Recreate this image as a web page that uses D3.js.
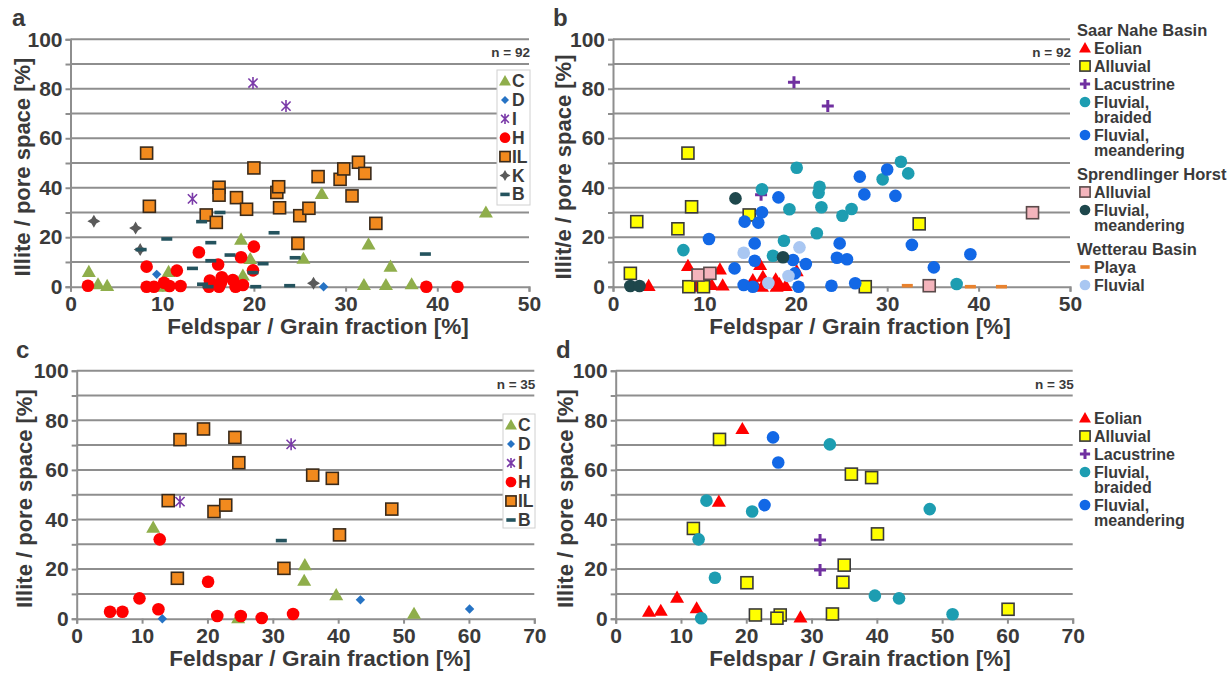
<!DOCTYPE html>
<html>
<head>
<meta charset="utf-8">
<script src="https://cdn.jsdelivr.net/npm/d3@7"></script>
<style>
body { margin: 0; background: #fff; }
svg text { font-family: "Liberation Sans", Arial, sans-serif; font-weight: bold; fill: #3a3a3a; }
</style>
</head>
<body>
<svg width="1229" height="679"></svg>
<script>
// ---- data ----
// panel a : diagenetic groups, x = feldspar, y = illite
var aC  = [[2.0,6],[3.0,1],[4.0,0.3],[9.9,0],[10.7,6],[18.6,19],[18.8,4.5],[19.6,11.2],[25.4,11.3],[27.4,37.5],[32.5,17.1],[34.9,8.1],[32.0,0.7],[34.4,0.7],[37.2,1],[45.3,30]];
var aD  = [[9.4,5],[27.6,0]];
var aI  = [[13.3,35.5],[19.9,82.3],[23.5,73]];
var aH  = [[1.9,0.4],[8.3,8.1],[8.3,0],[9.1,0],[10.2,1.6],[10.8,0.3],[11.6,6.5],[12.0,0.3],[14.0,13.9],[15.2,2.5],[15.1,0],[16.1,9],[16.5,3.8],[16.4,1.5],[16.2,0],[17.7,2.7],[18.0,0],[18.6,11.9],[18.8,0.7],[20.0,16.2],[19.9,6.6],[38.8,0],[42.2,0]];
var aIL = [[8.3,54],[8.6,32.5],[14.8,29],[15.9,26],[16.2,40.2],[16.2,37],[18.1,36],[19.2,31.3],[20.0,48],[22.5,38.1],[22.7,40.4],[22.8,31.9],[24.8,17.5],[25.0,28.7],[26.0,31.7],[27.0,44.5],[29.4,43.4],[29.8,47.6],[31.4,50.3],[32.1,45.8],[30.7,36.7],[33.3,25.6]];
var aK  = [[2.55,26.5],[7.1,23.7],[7.6,15],[26.5,1.4]];
var aB  = [[7.7,15],[10.5,19.3],[13.3,7.4],[14.3,26.3],[14.4,1],[15.0,0],[15.3,17.8],[15.3,10.5],[16.3,30],[17.4,12.8],[19.9,5.7],[20.2,0],[21.0,9.3],[22.2,21.8],[23.9,0.4],[24.5,11.7],[38.7,13.2]];

// panel b : facies
var bEolian     = [[8.2,8.4],[11.7,7.0],[3.9,0.3],[9.1,0],[10.2,1.6],[10.8,0.7],[12.0,0.5],[16.1,8.8],[16.4,4],[15.3,2.7],[15.1,0.7],[16.3,0],[17.8,3],[18.2,1.1],[18.9,0.3],[20.1,6.3],[17.9,0]];
var bAlluvial   = [[8.2,54],[8.6,32.3],[2.6,26.3],[7.1,23.4],[1.9,5.4],[8.3,0],[9.9,0],[14.9,29],[27.6,0],[33.5,25.4]];
var bLacustrine = [[19.8,82.6],[23.5,73],[16.2,37.2]];
var bBraided    = [[20.1,48.1],[16.3,39.4],[22.6,40.4],[22.5,38],[19.3,31.3],[22.8,32.1],[25.1,28.7],[26.1,31.4],[22.3,21.6],[18.7,18.6],[7.7,14.8],[17.5,12.5],[31.5,50.5],[32.3,45.8],[29.5,43.4],[37.6,1.1]];
var bMeander    = [[27.0,44.5],[18.1,36.1],[16.3,30.1],[14.4,26.3],[15.9,25.9],[10.5,19.3],[15.5,17.5],[24.8,17.5],[15.5,10.5],[19.7,10.8],[21.1,9.2],[24.5,11.7],[25.6,11.1],[13.3,7.4],[19.9,5.4],[14.3,0.7],[15.3,0],[20.3,0],[23.9,0.4],[26.5,1.4],[30.0,47.4],[27.5,37.3],[30.9,36.7],[32.7,16.9],[39.1,13.1],[35.1,7.8]];
var bSprAlluvial = [[9.3,4.7],[10.6,5.4],[45.9,29.9],[34.6,0.4]];
var bSprMeander  = [[1.9,0.3],[2.9,0.3],[13.4,35.7],[18.6,11.9]];
var bPlaya       = [[32.2,0.4],[39.1,0],[42.5,0]];
var bWetFluvial  = [[14.3,13.7],[20.4,15.9],[19.2,4.3],[17.0,1.5]];

// panel c
var cC  = [[11.7,36.7],[24.7,0.2],[34.9,21.6],[34.8,15.3],[39.7,9.5],[51.6,2]];
var cD  = [[13.1,0],[43.4,7.6],[60.1,3.9]];
var cI  = [[15.8,47.2],[32.8,70.3]];
var cH  = [[5.1,2.8],[7.0,2.8],[9.6,8.2],[12.5,3.8],[12.7,32],[20.1,14.9],[21.5,1.1],[25.1,1.1],[28.3,0.3],[33.1,1.9]];
var cIL = [[15.8,72.2],[19.4,76.5],[24.2,73.1],[24.8,62.9],[14.0,47.6],[21.0,43.2],[22.8,45.8],[15.4,16.3],[31.7,20.3],[36.1,57.9],[39.1,56.6],[48.2,44.2],[40.2,33.8]];
var cB  = [[31.3,31.5]];

// panel d
var dEolian     = [[5.1,2.8],[6.9,3.2],[9.4,8.5],[12.4,4.2],[15.8,47.2],[19.4,76.5],[28.3,0.5]];
var dAlluvial   = [[15.9,72.3],[11.9,36.4],[20.1,14.5],[21.4,1.5],[25.2,1.5],[24.7,0.2],[36.1,58.3],[39.2,56.9],[35.0,21.6],[34.8,14.7],[33.2,1.9],[40.1,34.2],[60.1,3.8]];
var dLacustrine = [[31.3,31.7],[31.3,19.6]];
var dBraided    = [[13.9,47.6],[20.9,43.2],[12.7,32],[15.2,16.5],[13.1,0.2],[32.8,70.3],[39.7,9.3],[43.4,8.2],[48.1,44.2],[51.6,1.8]];
var dMeander    = [[24.1,73.1],[24.9,63],[22.8,45.8]];

var yTicks = d3.range(0, 101, 10);
var xTicksAB = [0, 10, 20, 30, 40, 50];
var xTicksCD = [0, 10, 20, 30, 40, 50, 60, 70];

// ---- marker styles ----
var sty = {
  C:   {shape: "tri",     fill: "#8fae4b"},
  D:   {shape: "diamond", fill: "#2673c4"},
  I:   {shape: "star",    fill: "#7a3aa8"},
  H:   {shape: "circle",  fill: "#ff0000"},
  IL:  {shape: "square",  fill: "#f28a1e", stroke: "#3a2a1a"},
  K:   {shape: "kstar",   fill: "#5a5a5a"},
  B:   {shape: "dash",    fill: "#24535e"},
  eol: {shape: "tri",     fill: "#ff0000"},
  all: {shape: "square",  fill: "#ffff00", stroke: "#3a3a3a"},
  lac: {shape: "plus",    fill: "#7030a0"},
  brd: {shape: "circle",  fill: "#1d9db1"},
  mea: {shape: "circle",  fill: "#1268e6"},
  spa: {shape: "square",  fill: "#f4b4bc", stroke: "#5a4a4a"},
  spm: {shape: "circle",  fill: "#1e474c"},
  pla: {shape: "dash",    fill: "#e8822e"},
  wfl: {shape: "circle",  fill: "#a9c7f2"}
};

var svg = d3.select("svg");

function marker(sel, s, scale) {
  var k = scale || 1;
  if (s.shape == "circle") {
    sel.append("circle").attr("r", 6.3 * k).attr("fill", s.fill);
  } else if (s.shape == "square") {
    sel.append("rect").attr("x", -6 * k).attr("y", -6 * k).attr("width", 12 * k).attr("height", 12 * k)
      .attr("fill", s.fill).attr("stroke", s.stroke).attr("stroke-width", 1.6);
  } else if (s.shape == "tri") {
    sel.append("path").attr("d", d3.symbol(d3.symbolTriangle, 85 * k * k)()).attr("fill", s.fill)
      .attr("transform", "translate(0,1)");
  } else if (s.shape == "diamond") {
    // rotated square, like the spreadsheet diamond
    sel.append("path").attr("d", d3.symbol(d3.symbolSquare, 44 * k * k)()).attr("fill", s.fill)
      .attr("transform", "rotate(45)");
  } else if (s.shape == "kstar") {
    var r = 6.5 * k, q = 2.4 * k;
    sel.append("path").attr("fill", s.fill)
      .attr("d", "M0," + (-r) + "L" + q + "," + (-q) + "L" + r + ",0L" + q + "," + q + "L0," + r +
                 "L" + (-q) + "," + q + "L" + (-r) + ",0L" + (-q) + "," + (-q) + "Z");
  } else if (s.shape == "dash") {
    sel.append("rect").attr("x", -5.5 * k).attr("y", -1.8).attr("width", 11 * k).attr("height", 3.6).attr("fill", s.fill);
  } else if (s.shape == "plus") {
    var p = 6 * k;
    sel.append("path").attr("d", "M" + (-p) + ",0H" + p + "M0," + (-p) + "V" + p)
      .attr("stroke", s.fill).attr("stroke-width", 3).attr("fill", "none");
  } else if (s.shape == "star") {
    var a = 6 * k, b = 4.6 * k;
    sel.append("path").attr("d", "M0," + (-a) + "V" + a + "M" + (-b) + "," + (-b) + "L" + b + "," + b + "M" + (-b) + "," + b + "L" + b + "," + (-b))
      .attr("stroke", s.fill).attr("stroke-width", 1.6).attr("fill", "none");
  }
}

function panel(p) {
  var g = svg.append("g");
  var x = d3.scaleLinear().domain([0, p.xmax]).range([p.left, p.right]);
  var y = d3.scaleLinear().domain([0, 100]).range([p.bottom, p.top]);

  // grid lines every 10 %
  g.selectAll(".grid").data(yTicks.slice(1)).enter().append("line")
    .attr("x1", p.left).attr("x2", p.right)
    .attr("y1", function(d) { return y(d); }).attr("y2", function(d) { return y(d); })
    .attr("stroke", "#8e8e8e").attr("stroke-width", 2);

  var ya = g.append("g").attr("transform", "translate(" + p.left + ",0)")
    .call(d3.axisLeft(y).tickValues(yTicks).tickSize(5).tickPadding(3)
      .tickFormat(function(d) { return d % 20 == 0 ? d : ""; }));
  var xa = g.append("g").attr("transform", "translate(0," + p.bottom + ")")
    .call(d3.axisBottom(x).tickValues(p.xticks).tickSize(5).tickPadding(4));
  [ya, xa].forEach(function(ax) {
    ax.select(".domain").attr("stroke", "#8e8e8e").attr("stroke-width", 2);
    ax.selectAll(".tick line").attr("stroke", "#8e8e8e").attr("stroke-width", 2);
    ax.selectAll("text").style("font-size", "21px").attr("fill", "#3a3a3a");
  });

  // series
  p.series.forEach(function(s) {
    g.append("g").selectAll("g").data(s.data).enter().append("g")
      .attr("transform", function(d) { return "translate(" + x(d[0]) + "," + y(d[1]) + ")"; })
      .each(function() { marker(d3.select(this), sty[s.key]); });
  });

  // titles
  g.append("text").attr("x", p.xTitleX).attr("y", p.bottom + 47).attr("text-anchor", "middle")
    .style("font-size", "22.5px").text("Feldspar / Grain fraction [%]");
  g.append("text").attr("transform", "translate(" + p.yTitleX + "," + ((p.top + p.bottom) / 2 + 4) + ") rotate(-90)")
    .attr("text-anchor", "middle").style("font-size", "22px").text(p.yTitle);
  g.append("text").attr("x", p.letterX).attr("y", p.top - 13).style("font-size", "24px").text(p.letter);
  g.append("text").attr("x", p.right + 1).attr("y", p.top + 18).attr("text-anchor", "end")
    .style("font-size", "13.5px").text(p.n);

  // legend inside plot (a, c)
  if (p.boxLegend) {
    var L = p.boxLegend;
    g.append("rect").attr("x", L.x).attr("y", L.y).attr("width", L.w).attr("height", L.h)
      .attr("fill", "#fff").attr("stroke", "#d0d0d0");
    p.series.forEach(function(s, i) {
      var row = g.append("g").attr("transform", "translate(" + (L.x + 8) + "," + (L.y + 11 + i * L.step) + ")");
      marker(row, sty[s.key], 0.85);
      row.append("text").attr("x", 7).attr("y", 6).style("font-size", "17.5px").text(s.name);
    });
  }
}

panel({
  letter: "a", letterX: 12, xmax: 50, xticks: xTicksAB,
  left: 70.5, right: 529, top: 39.3, bottom: 286.7,
  xTitleX: 318, yTitleX: 30, yTitle: "Illite / pore space [%]", n: "n = 92",
  boxLegend: {x: 497, y: 70, w: 33, h: 135, step: 18.9},
  series: [
    {key: "C", name: "C", data: aC}, {key: "D", name: "D", data: aD}, {key: "I", name: "I", data: aI},
    {key: "H", name: "H", data: aH}, {key: "IL", name: "IL", data: aIL}, {key: "K", name: "K", data: aK},
    {key: "B", name: "B", data: aB}
  ]
});

panel({
  letter: "b", letterX: 553, xmax: 50, xticks: xTicksAB,
  left: 613, right: 1070, top: 39.3, bottom: 286.7,
  xTitleX: 860, yTitleX: 571, yTitle: "Illit/e / pore space [%]", n: "n = 92",
  series: [
    {key: "eol", data: bEolian}, {key: "all", data: bAlluvial}, {key: "lac", data: bLacustrine},
    {key: "brd", data: bBraided}, {key: "mea", data: bMeander}, {key: "spa", data: bSprAlluvial},
    {key: "spm", data: bSprMeander}, {key: "pla", data: bPlaya}, {key: "wfl", data: bWetFluvial}
  ]
});

panel({
  letter: "c", letterX: 16, xmax: 70, xticks: xTicksCD,
  left: 76.7, right: 534.3, top: 370.7, bottom: 618.7,
  xTitleX: 320, yTitleX: 32, yTitle: "Illite / pore space [%]", n: "n = 35",
  boxLegend: {x: 503, y: 414, w: 32, h: 114, step: 19},
  series: [
    {key: "C", name: "C", data: cC}, {key: "D", name: "D", data: cD}, {key: "I", name: "I", data: cI},
    {key: "H", name: "H", data: cH}, {key: "IL", name: "IL", data: cIL}, {key: "B", name: "B", data: cB}
  ]
});

panel({
  letter: "d", letterX: 556, xmax: 70, xticks: xTicksCD,
  left: 615.7, right: 1072.7, top: 370.7, bottom: 618.7,
  xTitleX: 860, yTitleX: 573, yTitle: "Illite / pore space [%]", n: "n = 35",
  series: [
    {key: "eol", data: dEolian}, {key: "all", data: dAlluvial}, {key: "lac", data: dLacustrine},
    {key: "brd", data: dBraided}, {key: "mea", data: dMeander}
  ]
});

// ---- outside legends (b, d) ----
var legB = [
  {head: "Saar Nahe Basin"},
  {key: "eol", lines: ["Eolian"]}, {key: "all", lines: ["Alluvial"]}, {key: "lac", lines: ["Lacustrine"]},
  {key: "brd", lines: ["Fluvial,", "braided"]}, {key: "mea", lines: ["Fluvial,", "meandering"]},
  {head: "Sprendlinger Horst"},
  {key: "spa", lines: ["Alluvial"]}, {key: "spm", lines: ["Fluvial,", "meandering"]},
  {head: "Wetterau Basin"},
  {key: "pla", lines: ["Playa"]}, {key: "wfl", lines: ["Fluvial"]}
];
var legD = [
  {key: "eol", lines: ["Eolian"]}, {key: "all", lines: ["Alluvial"]}, {key: "lac", lines: ["Lacustrine"]},
  {key: "brd", lines: ["Fluvial,", "braided"]}, {key: "mea", lines: ["Fluvial,", "meandering"]}
];

function outLegend(items, x0, y0) {
  var yy = y0, g = svg.append("g");
  items.forEach(function(it, i) {
    if (it.head) {
      if (i > 0) yy += 6;
      g.append("text").attr("x", x0).attr("y", yy + 6).style("font-size", "16.5px").text(it.head);
      yy += 18;
      return;
    }
    var row = g.append("g").attr("transform", "translate(" + (x0 + 8) + "," + yy + ")");
    marker(row, sty[it.key], 0.85);
    var t = row.append("text").attr("x", 9).attr("y", 6).style("font-size", "16px");
    it.lines.forEach(function(s, j) {
      t.append("tspan").attr("x", 9).attr("dy", j == 0 ? 0 : 15).text(s);
    });
    yy += 18 + (it.lines.length - 1) * 15;
  });
}
outLegend(legB, 1077, 30);
outLegend(legD, 1077, 418);
</script>
</body>
</html>
